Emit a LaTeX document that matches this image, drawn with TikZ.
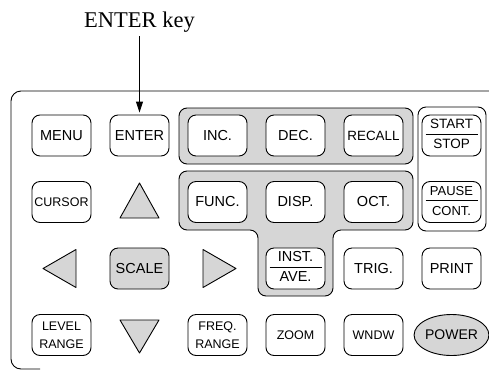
\documentclass[tikz,border=0pt]{standalone}
\usepackage{fontspec}
\setmainfont{Liberation Serif}
\setsansfont{Liberation Sans}
\usetikzlibrary{positioning,shapes.geometric,arrows.meta}
\definecolor{keygray}{gray}{0.84}
\newcommand\btnover[2]{{\setlength\arrayrulewidth{0.8pt}%
  \begin{tabular}{@{}c@{}}\makebox[52pt]{#1}\\\hline\rule{0pt}{14pt}#2\end{tabular}}}
\tikzset{
  btn/.style={draw, line width=0.9pt, rounded corners=8pt, fill=white,
    minimum width=59pt, minimum height=41pt, inner sep=0pt, align=center,
    font=\sffamily\fontsize{14.5}{17}\selectfont},
  btnsmall/.style={btn, font=\sffamily\fontsize{12.5}{18}\selectfont},
  btngray/.style={btn, fill=keygray},
  arrowkey/.style={draw, line width=0.9pt, fill=keygray, line join=round},
  group/.style={draw, line width=0.9pt, rounded corners=8pt, fill=keygray}
}

\begin{document}
\begin{tikzpicture}[x=1pt, y=-1pt, node distance=66.5pt and 78pt, on grid]
  \useasboundingbox (0,0) rectangle (489,370);
  % front panel and key groups
  \draw[line width=0.9pt, rounded corners=10pt] (500,91) -- (11,91) -- (11,369) -- (40,369);
  \draw[group] (179,108) rectangle (413,164);
  \draw[group] (179,171) -- (413,171) -- (413,230) -- (333,230) -- (333,296)
    -- (258,296) -- (258,230) -- (179,230) -- cycle;
  \draw[group, fill=white] (418,107) rectangle (486,231);

  % row 1
  \node[btn] (menu) at (61.5,135.5) {MENU};
  \node[btn] (enter) [right=of menu] {ENTER};
  \node[btn] (inc) [right=of enter] {INC.};
  \node[btn] (dec) [right=of inc] {DEC.};
  \node[btn, font=\sffamily\fontsize{13.4}{16}\selectfont] (recall) [right=of dec] {RECALL};
  \node[btn, font=\sffamily\fontsize{13.5}{16}\selectfont] (start) [right=of recall] {\btnover{START}{STOP}};
  % row 2
  \node[btnsmall] (cursor) [below=of menu] {CURSOR};
  \coordinate[below=of enter] (arrup);
  \node[btn] (func) [below=of inc] {FUNC.};
  \node[btn] (disp) [below=of dec] {DISP.};
  \node[btn] (oct) [below=of recall] {OCT.};
  \node[btn, font=\sffamily\fontsize{13}{16}\selectfont] (pause) [below=of start] {\btnover{PAUSE}{CONT.}};
  % row 3
  \coordinate[below=of cursor] (arrleft);
  \node[btngray] (scale) [below=133pt of enter] {SCALE};
  \coordinate[below=of func] (arrright);
  \node[btn] (inst) [below=of disp] {\btnover{INST.}{AVE.}};
  \node[btn] (trig) [below=of oct] {TRIG.};
  \node[btn] (print) [below=of pause] {PRINT};
  % row 4
  \node[btnsmall] (level) [below=199.5pt of menu] {LEVEL\\RANGE};
  \coordinate[below=of scale] (arrdown);
  \node[btnsmall] (freq) [below=199.5pt of inc] {FREQ.\\RANGE};
  \node[btnsmall] (zoom) [below=of inst] {ZOOM};
  \node[btnsmall] (wndw) [below=of trig] {WNDW};
  \node[btn, ellipse, fill=keygray, minimum width=62pt, font=\sffamily\fontsize{14}{17}\selectfont] (power) [below=of print] {POWER};

  % cursor keys
  \draw[arrowkey] ([yshift=19pt]arrup) -- ++(19.5,35) -- ++(-39,0) -- cycle;
  \draw[arrowkey] ([yshift=-18pt]arrdown) -- ++(19.5,-33) -- ++(-39,0) -- cycle;
  \draw[arrowkey] ([xshift=-18.5pt]arrleft) -- ++(33,-19) -- ++(0,38) -- cycle;
  \draw[arrowkey] ([xshift=18.5pt]arrright) -- ++(-33,-19) -- ++(0,38) -- cycle;

  % callout
  \node[font=\fontsize{22.5}{26}\selectfont] (lbl) [above=113pt of enter] {ENTER key};
  \draw[line width=0.9pt, -{Triangle[length=11pt,width=7pt]}, shorten >=2pt] (lbl) -- (enter);
\end{tikzpicture}
\end{document}
